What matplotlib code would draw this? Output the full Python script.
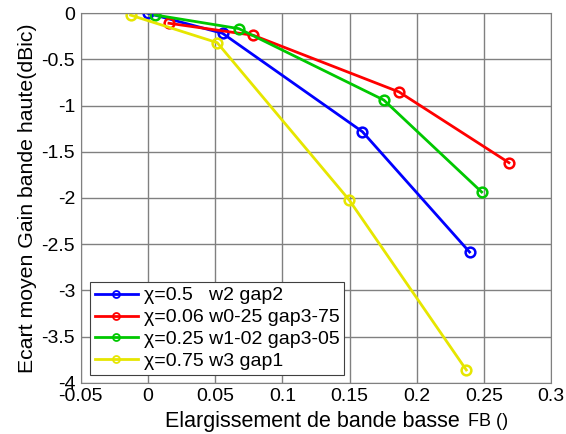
import numpy as np
from matplotlib import pyplot as plt

plt.rcParams['font.family'] = ['Liberation Sans', 'DejaVu Sans']

# series
x_blue = [0.0, 0.0555, 0.1595, 0.2392]
y_blue = [0.0, -0.217, -1.282, -2.585]
x_red = [0.0156, 0.0783, 0.1868, 0.2685]
y_red = [-0.108, -0.238, -0.852, -1.618]
x_green = [0.0052, 0.0676, 0.1754, 0.2482]
y_green = [-0.018, -0.166, -0.939, -1.935]
x_yellow = [-0.0129, 0.0515, 0.1496, 0.2368]
y_yellow = [-0.02, -0.318, -2.02, -3.862]

labels = [u'\u03c7=0.5   w2 gap2',
          u'\u03c7=0.06 w0-25 gap3-75',
          u'\u03c7=0.25 w1-02 gap3-05',
          u'\u03c7=0.75 w3 gap1']
colors = ['#0000ff', '#ff0000', '#00c800', '#e6e600']

xticks = [-0.05, 0, 0.05, 0.1, 0.15, 0.2, 0.25, 0.3]
xticklabels = ['-0.05', '0', '0.05', '0.1', '0.15', '0.2', '0.25', '0.3']
yticks = [0, -0.5, -1, -1.5, -2, -2.5, -3, -3.5, -4]
yticklabels = ['0', '-0.5', '-1', '-1.5', '-2', '-2.5', '-3', '-3.5', '-4']

fig = plt.figure(figsize=(5.66, 4.34), dpi=100)
ax = fig.add_axes([0.1426, 0.1182, 0.8314, 0.8512])

series = [(x_blue, y_blue), (x_red, y_red), (x_green, y_green), (x_yellow, y_yellow)]
for (xs, ys), c, lab in zip(series, colors, labels):
    ax.plot(xs, ys, '-', color=c, lw=2, marker='o', ms=7, mfc='none',
            mec=c, mew=1.8, label=lab)

ax.set_xlim(-0.05, 0.3)
ax.set_ylim(-4, 0)
ax.set_xticks(xticks)
ax.set_xticklabels(xticklabels)
ax.set_yticks(yticks)
ax.set_yticklabels(yticklabels)
ax.tick_params(direction='in', length=0, labelsize=14, pad=4)
ax.grid(True, color='#808080', lw=1.0)
ax.set_axisbelow(True)
for s in ax.spines.values():
    s.set_color('#808080')

ax.set_ylabel('Ecart moyen Gain bande haute(dBic)', fontsize=15.3, labelpad=3)
fig.text(460/566., 1 - 422/434., 'Elargissement de bande basse', fontsize=15.5,
         ha='right', va='center')
fig.text(468/566., 1 - 422/434., 'FB ()', fontsize=13, ha='left', va='center')

leg = ax.legend(loc='lower left', bbox_to_anchor=(0.0198, 0.0208), fontsize=14,
                handlelength=2.2, fancybox=False, framealpha=1,
                edgecolor='#404040', borderpad=0.25, labelspacing=0.22,
                handletextpad=0.3, borderaxespad=0)
leg.get_frame().set_linewidth(0.8)
for h in leg.legend_handles:
    h.set_markersize(5)
    h.set_markeredgewidth(1.3)

fig.savefig('out.png', dpi=100)
